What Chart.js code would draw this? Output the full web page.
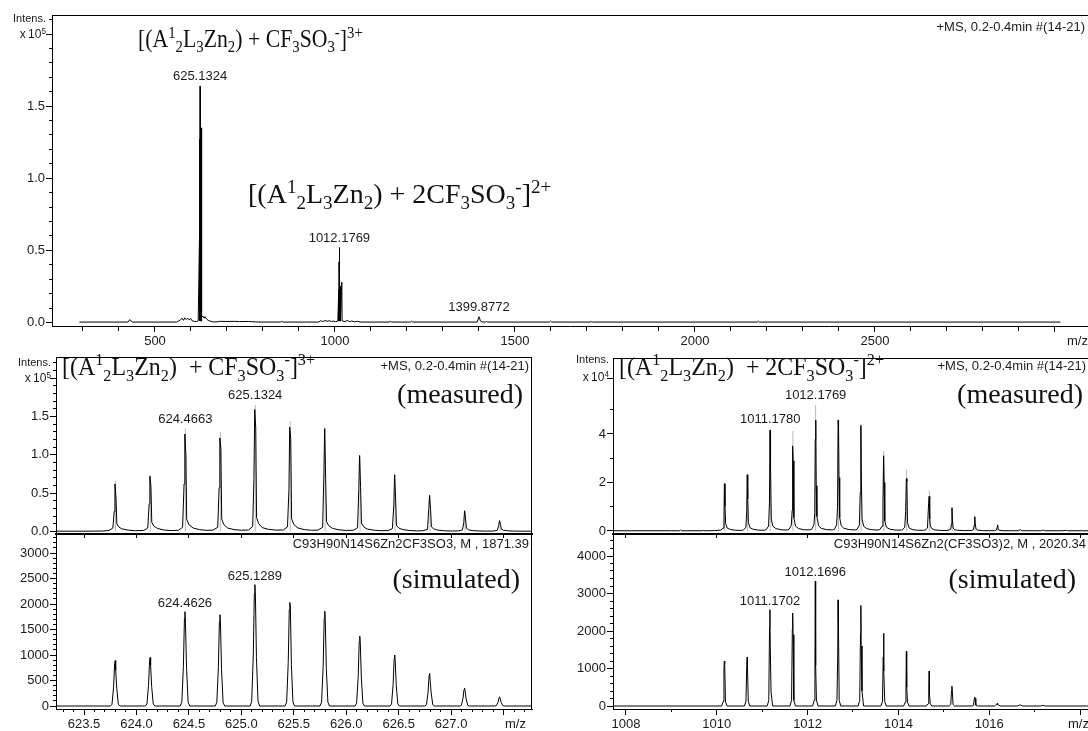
<!DOCTYPE html>
<html lang="en">
<head>
<meta charset="UTF-8">
<title>ESI-MS of the Zn2 helicate</title>
<script src="https://cdn.jsdelivr.net/npm/chart.js@4"></script>
<style>
  html, body { margin: 0; padding: 0; background: #fff; }
  body { position: relative; width: 1088px; height: 731px; overflow: hidden; color: #1a1a1a; }
  canvas { position: absolute; }
  .t { position: absolute; white-space: nowrap; line-height: 1; }
  .sans { font-family: "Liberation Sans", Arial, sans-serif; }
  .serif { font-family: "Liberation Serif", "Times New Roman", serif; color: #111; }
  .narrow { transform-origin: 0 50%; }
  .t sub, .t sup { font-size: 0.68em; line-height: 0; position: relative; vertical-align: baseline; }
  .t sup { top: -0.55em; }
  .t sub { top: 0.32em; }
</style>
</head>
<body>

<canvas id="overview" width="1088" height="352" style="left:0;top:0"></canvas>
<canvas id="meas3" width="540" height="200" style="left:0;top:340px"></canvas>
<canvas id="sim3" width="540" height="197" style="left:0;top:534px"></canvas>
<canvas id="meas2" width="532" height="200" style="left:556px;top:340px"></canvas>
<canvas id="sim2" width="532" height="197" style="left:556px;top:534px"></canvas>

<!-- full scan -->
<div class="t sans" style="right:1042px;top:13px;font-size:11px">Intens.</div>
<div class="t sans" style="right:1042px;top:28px;font-size:12px">x&#8201;10<sup>5</sup></div>
<div class="t sans" style="right:3px;top:20px;font-size:13px">+MS, 0.2-0.4min #(14-21)</div>
<div class="t sans" style="left:1067px;top:334px;font-size:13px">m/z</div>
<div class="t serif narrow" style="left:138px;top:26px;font-size:25px;transform:scaleX(0.87)">[(A<sup>1</sup><sub>2</sub>L<sub>3</sub>Zn<sub>2</sub>) + CF<sub>3</sub>SO<sub>3</sub><sup>-</sup>]<sup>3+</sup></div>
<div class="t serif" style="left:248px;top:180px;font-size:28px">[(A<sup>1</sup><sub>2</sub>L<sub>3</sub>Zn<sub>2</sub>) + 2CF<sub>3</sub>SO<sub>3</sub><sup>-</sup>]<sup>2+</sup></div>

<!-- 3+ isotope pattern -->
<div class="t sans" style="right:1037px;top:357px;font-size:11px">Intens.</div>
<div class="t sans" style="right:1037px;top:372px;font-size:12px">x&#8201;10<sup>5</sup></div>
<div class="t serif narrow" style="left:62px;top:354px;font-size:26px;transform:scaleX(0.92)">[(A<sup>1</sup><sub>2</sub>L<sub>3</sub>Zn<sub>2</sub>)&nbsp; + CF<sub>3</sub>SO<sub>3</sub><sup>-</sup>]<sup>3+</sup></div>
<div class="t sans" style="right:559px;top:359px;font-size:13px">+MS, 0.2-0.4min #(14-21)</div>
<div class="t serif" style="right:565px;top:380px;font-size:28px">(measured)</div>
<div class="t sans" style="right:559px;top:537px;font-size:13px">C93H90N14S6Zn2CF3SO3, M , 1871.39</div>
<div class="t serif" style="right:568px;top:565px;font-size:28px">(simulated)</div>
<div class="t sans" style="left:505px;top:717px;font-size:13px">m/z</div>

<!-- 2+ isotope pattern -->
<div class="t sans" style="right:479px;top:354px;font-size:11px">Intens.</div>
<div class="t sans" style="right:479px;top:371px;font-size:12px">x&#8201;10<sup>4</sup></div>
<div class="t serif narrow" style="left:619px;top:354px;font-size:26px;transform:scaleX(0.92)">[(A<sup>1</sup><sub>2</sub>L<sub>3</sub>Zn<sub>2</sub>)&nbsp; + 2CF<sub>3</sub>SO<sub>3</sub><sup>-</sup>]<sup>2+</sup></div>
<div class="t sans" style="right:2px;top:359px;font-size:13px">+MS, 0.2-0.4min #(14-21)</div>
<div class="t serif" style="right:5px;top:380px;font-size:28px">(measured)</div>
<div class="t sans" style="right:2px;top:537px;font-size:13px">C93H90N14S6Zn2(CF3SO3)2, M , 2020.34</div>
<div class="t serif" style="right:12px;top:565px;font-size:28px">(simulated)</div>
<div class="t sans" style="left:1068px;top:717px;font-size:13px">m/z</div>

<script>
const SANS = '"Liberation Sans", Arial, sans-serif';

// ---- axis ticks -----------------------------------------------------------
const overviewMzTicks = [500, 1000, 1500, 2000, 2500, 3000];
const overviewIntTicks = [0, 0.5, 1.0, 1.5, 2.0];
const iso3MzTicks = [623.5, 624.0, 624.5, 625.0, 625.5, 626.0, 626.5, 627.0, 627.5];
const iso3MeasTicks = [0, 0.5, 1.0, 1.5, 2.0];
const iso3SimTicks = [0, 500, 1000, 1500, 2000, 2500, 3000];
const iso2MzTicks = [1008, 1010, 1012, 1014, 1016, 1018];
const iso2MeasTicks = [0, 2, 4, 6.3];
const iso2SimTicks = [0, 1000, 2000, 3000, 4000];

// ---- full scan, m/z vs intensity (x10^5) ---------------------------------
const overviewProfile = [
  [290, 0.003], [425, 0.003], [430, 0.02], [433, 0.012], [438, 0.003], [560, 0.003], [566, 0.01],
  [571, 0.018], [575, 0.03], [579, 0.015], [583, 0.032], [587, 0.02], [591, 0.03], [595, 0.018],
  [599, 0.028], [603, 0.012], [609, 0.008], [615, 0.006], [620, 0.012],
  [623.8, 0.62], [623.97, 0.01], [624.13, 0.72], [624.3, 0.02], [624.4663, 1.27], [624.63, 0.02],
  [624.8, 1.22], [624.97, 0.02], [625.1324, 1.64], [625.3, 0.03], [625.47, 1.36], [625.63, 0.02],
  [625.8, 1.34], [625.97, 0.02], [626.13, 0.99], [626.3, 0.02], [626.47, 0.74], [626.63, 0.015],
  [626.8, 0.47], [626.97, 0.01], [627.13, 0.27], [627.3, 0.01], [627.47, 0.14], [628, 0.01],
  [628.8, 1.35], [629.6, 0.04], [630, 0.035], [633, 0.045], [636, 0.03], [639, 0.04], [643, 0.025], [648, 0.015], [655, 0.008],
  [662, 0.004], [672, 0.004], [680, 0.008], [700, 0.007], [720, 0.008], [735, 0.006], [760, 0.007],
  [780, 0.004], [800, 0.003], [848, 0.003], [852, 0.007], [856, 0.003], [955, 0.003], [960, 0.012],
  [966, 0.006], [972, 0.014], [978, 0.008], [984, 0.012], [990, 0.007], [996, 0.01], [1002, 0.006],
  [1008, 0.01],
  [1010.17, 0.2], [1010.42, 0.01], [1010.67, 0.23], [1010.92, 0.01], [1011.178, 0.42], [1011.43, 0.01],
  [1011.68, 0.41], [1011.93, 0.01], [1012.1769, 0.52], [1012.43, 0.02], [1012.68, 0.46], [1012.93, 0.02],
  [1013.18, 0.44], [1013.43, 0.02], [1013.68, 0.33], [1013.93, 0.01], [1014.18, 0.25], [1014.43, 0.01],
  [1014.68, 0.17], [1014.93, 0.01], [1015.18, 0.1], [1015.43, 0.01], [1015.68, 0.06], [1016.5, 0.01],
  [1018.9, 0.28], [1019.7, 0.012],
  [1022, 0.012], [1028, 0.006], [1034, 0.014], [1040, 0.006], [1046, 0.01], [1054, 0.005], [1062, 0.008],
  [1070, 0.003], [1150, 0.003], [1154, 0.008], [1158, 0.003], [1210, 0.003], [1213, 0.01], [1216, 0.003],
  [1395, 0.003], [1399.8772, 0.04], [1401.5, 0.03], [1404, 0.01], [1408, 0.004], [1418, 0.003],
  [1421, 0.007], [1424, 0.003], [1596, 0.003], [1599, 0.01], [1602, 0.003], [1709, 0.003], [1712, 0.007],
  [1715, 0.003], [2173, 0.003], [2176, 0.009], [2179, 0.003], [3015, 0.003]
];
const overviewLabels = [[625.1324, 1.64], [1012.1769, 0.52], [1399.8772, 0.04]];

// ---- [M + CF3SO3]3+ measured profile (x10^5) and centroids ---------------
const isoMeasured3 = [
  [623.233, 0.004], [623.50, 0.004], [623.68, 0.006],
  [623.74, 0.015], [623.775, 0.045], [623.788, 0.26], [623.795, 0.62], [623.805, 0.45], [623.813, 0.10],
  [623.83, 0.06], [623.86, 0.035], [623.92, 0.018], [623.99, 0.01],
  [624.07, 0.014], [624.108, 0.045], [624.121, 0.36], [624.128, 0.72], [624.138, 0.59], [624.146, 0.12],
  [624.165, 0.07], [624.20, 0.04], [624.26, 0.02], [624.33, 0.012],
  [624.40, 0.016], [624.44, 0.055], [624.454, 0.62], [624.4613, 1.27], [624.4713, 1.01], [624.479, 0.16],
  [624.50, 0.09], [624.54, 0.045], [624.60, 0.025], [624.67, 0.015],
  [624.73, 0.018], [624.775, 0.055], [624.788, 0.57], [624.795, 1.22], [624.805, 1.08], [624.813, 0.16],
  [624.833, 0.09], [624.87, 0.045], [624.93, 0.025], [625.00, 0.016],
  [625.07, 0.02], [625.108, 0.065], [625.120, 0.68], [625.1274, 1.59], [625.1374, 1.35], [625.145, 0.18],
  [625.166, 0.10], [625.20, 0.05], [625.26, 0.028], [625.33, 0.018],
  [625.40, 0.02], [625.44, 0.06], [625.454, 0.55], [625.461, 1.36], [625.471, 1.21], [625.479, 0.17],
  [625.50, 0.09], [625.54, 0.045], [625.60, 0.025], [625.67, 0.016],
  [625.73, 0.018], [625.775, 0.055], [625.787, 0.75], [625.794, 1.34], [625.804, 0.68], [625.812, 0.13],
  [625.833, 0.075], [625.87, 0.04], [625.93, 0.022], [626.00, 0.014],
  [626.07, 0.016], [626.108, 0.05], [626.120, 0.56], [626.127, 0.99], [626.137, 0.57], [626.145, 0.11],
  [626.166, 0.06], [626.20, 0.032], [626.26, 0.018], [626.33, 0.01],
  [626.40, 0.012], [626.44, 0.038], [626.454, 0.35], [626.461, 0.74], [626.471, 0.42], [626.479, 0.08],
  [626.50, 0.045], [626.54, 0.025], [626.60, 0.014], [626.67, 0.008],
  [626.73, 0.01], [626.775, 0.028], [626.787, 0.30], [626.794, 0.47], [626.804, 0.29], [626.812, 0.06],
  [626.833, 0.035], [626.87, 0.018], [626.93, 0.01], [627.00, 0.006],
  [627.07, 0.008], [627.108, 0.02], [627.121, 0.12], [627.128, 0.27], [627.138, 0.16], [627.146, 0.04],
  [627.166, 0.022], [627.20, 0.012], [627.26, 0.007], [627.33, 0.005],
  [627.40, 0.006], [627.44, 0.015], [627.454, 0.08], [627.461, 0.14], [627.471, 0.09], [627.479, 0.03],
  [627.50, 0.016], [627.54, 0.009], [627.60, 0.005], [627.771, 0.004]
];
const centroids3 = [
  [623.800, 0.66], [624.133, 0.73], [624.4663, 1.34], [624.800, 1.30], [625.1324, 1.65], [625.466, 1.44],
  [625.799, 1.35], [626.132, 0.99], [626.466, 0.74], [626.799, 0.48], [627.133, 0.27], [627.466, 0.15]
];
const meas3Labels = [[625.1324, 1.65], [624.4663, 1.34]];

// ---- [M + CF3SO3]3+ simulated pattern -------------------------------------
const isoSimulated3 = [
  [623.233, 0],
  [623.752, 0], [623.767, 35], [623.782, 370], [623.792, 830], [623.797, 890], [623.802, 700], [623.812, 350], [623.827, 35], [623.842, 0],
  [624.085, 0], [624.100, 40], [624.115, 400], [624.125, 880], [624.130, 950], [624.135, 800], [624.145, 380], [624.160, 40], [624.175, 0],
  [624.4176, 0], [624.4326, 75], [624.4476, 780], [624.4576, 1720], [624.4626, 1850], [624.4676, 1610], [624.4776, 740], [624.4926, 75], [624.5076, 0],
  [624.751, 0], [624.766, 70], [624.781, 750], [624.791, 1660], [624.796, 1790], [624.801, 1640], [624.811, 720], [624.826, 70], [624.841, 0],
  [625.0839, 0], [625.0989, 95], [625.1139, 1000], [625.1239, 2210], [625.1289, 2380], [625.1339, 2210], [625.1439, 950], [625.1589, 95], [625.1739, 0],
  [625.417, 0], [625.432, 80], [625.447, 850], [625.457, 1890], [625.462, 2030], [625.467, 1970], [625.477, 810], [625.492, 80], [625.507, 0],
  [625.750, 0], [625.765, 75], [625.780, 780], [625.790, 1730], [625.795, 1860], [625.800, 1710], [625.810, 740], [625.825, 75], [625.840, 0],
  [626.084, 0], [626.099, 55], [626.114, 575], [626.124, 1270], [626.129, 1370], [626.134, 1240], [626.144, 550], [626.159, 55], [626.174, 0],
  [626.417, 0], [626.432, 40], [626.447, 420], [626.457, 930], [626.462, 1000], [626.467, 880], [626.477, 400], [626.492, 40], [626.507, 0],
  [626.750, 0], [626.765, 25], [626.780, 270], [626.790, 600], [626.795, 640], [626.800, 500], [626.810, 255], [626.825, 25], [626.840, 0],
  [627.083, 0], [627.098, 15], [627.113, 150], [627.123, 325], [627.128, 350], [627.133, 300], [627.143, 140], [627.158, 15], [627.173, 0],
  [627.417, 0], [627.432, 8], [627.447, 75], [627.457, 165], [627.462, 180], [627.467, 150], [627.477, 72], [627.492, 8], [627.507, 0],
  [627.771, 0]
];
const sim3Labels = [[625.1289, 2380], [624.4626, 1850]];

// ---- [M + 2CF3SO3]2+ measured profile (x10^4) and centroids --------------
const isoMeasured2 = [
  [1007.714, 0.01], [1009.0, 0.01], [1009.18, 0.01], [1009.2, 0.04], [1009.22, 0.01], [1009.68, 0.01],
  [1009.7, 0.03], [1009.72, 0.01], [1009.95, 0.015],
  [1010.09, 0.04], [1010.14, 0.12], [1010.158, 0.5], [1010.168, 1.95], [1010.18, 1.02], [1010.195, 0.3],
  [1010.23, 0.12], [1010.3, 0.06], [1010.42, 0.03], [1010.55, 0.025],
  [1010.59, 0.05], [1010.64, 0.14], [1010.66, 0.85], [1010.67, 2.32], [1010.682, 1.32], [1010.697, 0.35],
  [1010.73, 0.14], [1010.8, 0.07], [1010.92, 0.035], [1011.05, 0.03],
  [1011.09, 0.06], [1011.14, 0.2], [1011.16, 1.15], [1011.172, 4.16], [1011.184, 2.66], [1011.2, 0.5],
  [1011.235, 0.2], [1011.3, 0.1], [1011.42, 0.05], [1011.55, 0.04],
  [1011.59, 0.07], [1011.64, 0.22], [1011.66, 0.85], [1011.67, 3.51], [1011.683, 2.89], [1011.698, 0.55],
  [1011.735, 0.2], [1011.8, 0.1], [1011.92, 0.05], [1012.05, 0.045],
  [1012.09, 0.07], [1012.14, 0.25], [1012.158, 0.75], [1012.168, 3.78], [1012.18, 4.57], [1012.19, 1.87],
  [1012.205, 0.6], [1012.24, 0.22], [1012.3, 0.11], [1012.42, 0.055], [1012.55, 0.045],
  [1012.59, 0.07], [1012.64, 0.25], [1012.66, 1.0], [1012.672, 4.57], [1012.682, 4.33], [1012.692, 2.2],
  [1012.707, 0.55], [1012.74, 0.22], [1012.8, 0.11], [1012.92, 0.055], [1013.05, 0.045],
  [1013.09, 0.07], [1013.14, 0.24], [1013.16, 1.6], [1013.173, 4.35], [1013.185, 2.05], [1013.2, 0.5],
  [1013.235, 0.2], [1013.3, 0.1], [1013.42, 0.05], [1013.55, 0.04],
  [1013.59, 0.06], [1013.64, 0.2], [1013.66, 1.12], [1013.674, 3.1], [1013.686, 2.0], [1013.7, 0.42],
  [1013.735, 0.16], [1013.8, 0.08], [1013.92, 0.04], [1014.05, 0.035],
  [1014.09, 0.05], [1014.14, 0.16], [1014.16, 0.8], [1014.175, 2.16], [1014.187, 2.05], [1014.2, 0.35],
  [1014.235, 0.13], [1014.3, 0.06], [1014.42, 0.03], [1014.55, 0.03],
  [1014.59, 0.04], [1014.64, 0.12], [1014.665, 1.12], [1014.678, 1.43], [1014.69, 0.5], [1014.705, 0.2],
  [1014.74, 0.09], [1014.8, 0.045], [1014.92, 0.025], [1015.05, 0.02],
  [1015.09, 0.025], [1015.15, 0.07], [1015.17, 0.3], [1015.18, 0.96], [1015.19, 0.45], [1015.205, 0.12],
  [1015.24, 0.05], [1015.3, 0.03], [1015.45, 0.015],
  [1015.6, 0.02], [1015.65, 0.05], [1015.672, 0.25], [1015.682, 0.59], [1015.692, 0.3], [1015.71, 0.08],
  [1015.75, 0.035], [1015.85, 0.015], [1016.0, 0.012],
  [1016.12, 0.015], [1016.16, 0.04], [1016.175, 0.15], [1016.185, 0.25], [1016.197, 0.1], [1016.22, 0.03],
  [1016.3, 0.012], [1016.5, 0.01],
  [1016.65, 0.012], [1016.686, 0.06], [1016.72, 0.012], [1017.0, 0.01],
  [1017.15, 0.01], [1017.187, 0.04], [1017.22, 0.01], [1017.6, 0.01], [1017.7, 0.025], [1017.73, 0.01], [1018.176, 0.01]
];
const centroids2 = [
  [1010.174, 1.95], [1010.676, 2.32], [1011.1780, 4.2], [1011.676, 4.12], [1012.1769, 5.2], [1012.678, 4.6],
  [1013.179, 4.4], [1013.680, 3.3], [1014.181, 2.53], [1014.682, 1.67], [1015.183, 0.96], [1015.684, 0.6],
  [1016.185, 0.25]
];
const meas2Labels = [[1012.1769, 5.2], [1011.1780, 4.2]];

// ---- [M + 2CF3SO3]2+ simulated pattern ------------------------------------
const isoSimulated2 = [
  [1007.714, 0],
  [1010.106, 0], [1010.141, 120], [1010.158, 1000], [1010.166, 1200], [1010.174, 1130], [1010.191, 120], [1010.226, 0],
  [1010.608, 0], [1010.643, 130], [1010.660, 1100], [1010.668, 1300], [1010.676, 1080], [1010.693, 130], [1010.728, 0],
  [1011.1102, 0], [1011.1452, 150], [1011.1622, 2100], [1011.1702, 2570], [1011.1782, 1550], [1011.1952, 370], [1011.2302, 0],
  [1011.612, 0], [1011.647, 150], [1011.664, 2060], [1011.672, 2480], [1011.680, 1900], [1011.697, 150], [1011.732, 0],
  [1012.1096, 0], [1012.1446, 150], [1012.1616, 820], [1012.1696, 3330], [1012.1776, 1080], [1012.1946, 160], [1012.2296, 0],
  [1012.611, 0], [1012.646, 150], [1012.663, 1280], [1012.671, 2830], [1012.679, 2230], [1012.696, 150], [1012.731, 0],
  [1013.113, 0], [1013.148, 150], [1013.165, 1940], [1013.173, 2680], [1013.181, 1600], [1013.198, 400], [1013.233, 0],
  [1013.614, 0], [1013.649, 120], [1013.666, 1300], [1013.674, 1940], [1013.682, 930], [1013.699, 120], [1013.734, 0],
  [1014.115, 0], [1014.150, 100], [1014.167, 400], [1014.175, 1460], [1014.183, 500], [1014.200, 100], [1014.235, 0],
  [1014.617, 0], [1014.652, 60], [1014.669, 450], [1014.677, 930], [1014.685, 300], [1014.702, 60], [1014.737, 0],
  [1015.118, 0], [1015.153, 40], [1015.170, 400], [1015.178, 530], [1015.186, 430], [1015.203, 40], [1015.238, 0],
  [1015.620, 0], [1015.655, 20], [1015.672, 200], [1015.680, 240], [1015.688, 200], [1015.705, 20], [1015.740, 0],
  [1016.121, 0], [1016.173, 60], [1016.181, 80], [1016.189, 40], [1016.241, 0],
  [1016.622, 0], [1016.682, 30], [1016.742, 0],
  [1017.123, 0], [1017.183, 15], [1017.243, 0],
  [1018.176, 0]
];
const sim2Labels = [[1012.1696, 3330], [1011.1702, 2570]];

// ---- helpers --------------------------------------------------------------
const steps = (from, to, step) => {
  const out = [];
  for (let v = from; v <= to + step / 2; v += step) out.push(+v.toFixed(4));
  return out;
};
const asPoints = list => list.map(([x, y]) => ({ x, y }));
const asSticks = list => list.flatMap(([x, y]) => [{ x, y: 0 }, { x, y }, { x, y: null }]);

function majorAxis(pos, min, max, values, label, size, tick, border = 1) {
  const horizontal = pos === 'bottom';
  return {
    type: 'linear', position: pos, min, max, bounds: 'data', weight: 1,
    afterBuildTicks: s => { s.ticks = values.map(value => ({ value })); },
    afterFit: s => {
      if (horizontal) s.height = size; else s.width = size;
      s.paddingLeft = s.paddingRight = s.paddingTop = s.paddingBottom = 0;
    },
    border: { display: true, color: '#000', width: border },
    grid: { drawOnChartArea: false, drawTicks: true, tickLength: tick, tickColor: '#000', tickWidth: 1 },
    ticks: {
      display: !!label, autoSkip: false, maxRotation: 0, minRotation: 0,
      padding: horizontal ? 2 : 1, color: '#1a1a1a',
      font: { family: SANS, size: 13 },
      callback: label || (() => '')
    }
  };
}

function minorAxis(pos, min, max, values, tick) {
  const horizontal = pos === 'bottom';
  return {
    type: 'linear', position: pos, min, max, bounds: 'data', weight: 0,
    afterBuildTicks: s => { s.ticks = values.map(value => ({ value })); },
    afterFit: s => {
      if (horizontal) s.height = 0; else s.width = 0;
      s.paddingLeft = s.paddingRight = s.paddingTop = s.paddingBottom = 0;
    },
    border: { display: false },
    grid: { drawOnChartArea: false, drawTicks: true, tickLength: tick, tickColor: '#000', tickWidth: 1 },
    ticks: { display: false }
  };
}

// top / right edges of the plot box
const framePlugin = sides => ({
  id: 'frame',
  afterDraw(chart) {
    const { ctx, chartArea: a } = chart;
    ctx.save();
    ctx.strokeStyle = '#000';
    ctx.lineWidth = 1;
    ctx.beginPath();
    if (sides.includes('top')) { ctx.moveTo(a.left, a.top + 0.5); ctx.lineTo(a.right, a.top + 0.5); }
    if (sides.includes('right')) { ctx.moveTo(a.right - 0.5, a.top); ctx.lineTo(a.right - 0.5, a.bottom); }
    ctx.stroke();
    ctx.restore();
  }
});

// m/z readout above the labelled peaks
const peakLabelPlugin = (items, gap) => ({
  id: 'peakLabels',
  afterDatasetsDraw(chart) {
    const { ctx, scales: { x, y } } = chart;
    ctx.save();
    ctx.font = '13px ' + SANS;
    ctx.fillStyle = '#1a1a1a';
    ctx.textAlign = 'center';
    ctx.textBaseline = 'bottom';
    items.forEach(([mz, top]) => ctx.fillText(mz.toFixed(4), x.getPixelForValue(mz), y.getPixelForValue(top) - gap));
    ctx.restore();
  }
});

function spectrum(id, cfg) {
  const datasets = [{ data: asPoints(cfg.profile), borderColor: '#000', borderWidth: 1, order: 0 }];
  if (cfg.sticks) datasets.push({ data: asSticks(cfg.sticks), borderColor: '#b8b8b8', borderWidth: 1, order: 1 });
  return new Chart(document.getElementById(id), {
    type: 'line',
    data: { datasets },
    options: {
      responsive: false,
      animation: false,
      events: [],
      layout: { padding: cfg.padding },
      elements: { point: { radius: 0 }, line: { tension: 0, fill: false } },
      spanGaps: false,
      plugins: { legend: { display: false }, tooltip: { enabled: false } },
      scales: cfg.scales
    },
    plugins: [framePlugin(cfg.frame), peakLabelPlugin(cfg.labels, cfg.gap)]
  });
}

const fixed1 = hide => v => (v === hide ? '' : v.toFixed(1));
const plain = hide => v => (v === hide ? '' : String(v));

// full scan
spectrum('overview', {
  profile: overviewProfile, labels: overviewLabels, gap: 3, frame: ['top'],
  padding: { top: 15, right: 0, bottom: 0, left: 0 },
  scales: {
    x: majorAxis('bottom', 213.9, 3091.7, overviewMzTicks, plain(3000), 26, 6),
    xMinor: minorAxis('bottom', 213.9, 3091.7, steps(300, 3000, 100), 5),
    y: majorAxis('left', -0.0243, 2.132, overviewIntTicks, fixed1(2), 52, 6),
    yMinor: minorAxis('left', -0.0243, 2.132, steps(0, 2.1, 0.1), 3)
  }
});

// 3+ measured
spectrum('meas3', {
  profile: isoMeasured3, sticks: centroids3, labels: meas3Labels, gap: 3, frame: ['top', 'right'],
  padding: { top: 17, right: 8, bottom: 0, left: 0 },
  scales: {
    x: majorAxis('bottom', 623.233, 627.771, iso3MzTicks, null, 6, 4, 2),
    y: majorAxis('left', -0.0326, 2.274, iso3MeasTicks, fixed1(2), 56, 6),
    yMinor: minorAxis('left', -0.0326, 2.274, steps(0, 2.2, 0.1), 3)
  }
});

// 3+ simulated
spectrum('sim3', {
  profile: isoSimulated3, labels: sim3Labels, gap: 2, frame: ['right'],
  padding: { top: 1, right: 8, bottom: 0, left: 0 },
  scales: {
    x: majorAxis('bottom', 623.233, 627.771, iso3MzTicks, fixed1(627.5), 22, 6),
    xMinor: minorAxis('bottom', 623.233, 627.771, steps(623.3, 627.7, 0.1), 3),
    y: majorAxis('left', -58.8, 3353, iso3SimTicks, plain(null), 56, 6),
    yMinor: minorAxis('left', -58.8, 3353, steps(0, 3300, 100), 3)
  }
});

// 2+ measured
spectrum('meas2', {
  profile: isoMeasured2, sticks: centroids2, labels: meas2Labels, gap: 3, frame: ['top'],
  padding: { top: 18, right: 0, bottom: 0, left: 0 },
  scales: {
    x: majorAxis('bottom', 1007.714, 1018.176, iso2MzTicks, null, 6, 4, 2),
    y: majorAxis('left', -0.124, 7.134, iso2MeasTicks, plain(6.3), 57, 6),
    yMinor: minorAxis('left', -0.124, 7.134, [1, 3, 5], 3)
  }
});

// 2+ simulated
spectrum('sim2', {
  profile: isoSimulated2, labels: sim2Labels, gap: 2, frame: [],
  padding: { top: 1, right: 0, bottom: 0, left: 0 },
  scales: {
    x: majorAxis('bottom', 1007.714, 1018.176, iso2MzTicks, plain(1018), 22, 6),
    xMinor: minorAxis('bottom', 1007.714, 1018.176, steps(1009, 1017, 2), 3),
    y: majorAxis('left', -80, 4560, iso2SimTicks, plain(null), 57, 6),
    yMinor: minorAxis('left', -80, 4560, steps(0, 4400, 200), 3)
  }
});
</script>
</body>
</html>
